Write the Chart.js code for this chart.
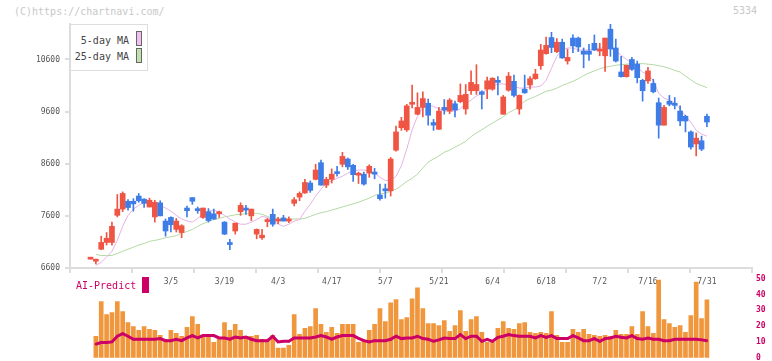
<html>
<head>
<script src="https://cdn.jsdelivr.net/npm/chart.js@4.4.1/dist/chart.umd.min.js"></script>
<style>
    body {
        margin: 0;
        padding: 0;
        background: #fff;
        width: 772px;
        height: 361px;
        overflow: hidden;
        position: relative;
        font-family: 'DejaVu Sans Mono', monospace;
    }
    canvas { position: absolute; left: 0; }
    #priceChart { top: 0; }
    #aiChart { top: 270px; }
    .site { position: absolute; left: 14px; top: 6px; font-size: 10px; line-height: 12px; color: #c8c8c8; }
    .code { position: absolute; right: 15px; top: 5px; font-size: 10px; line-height: 12px; color: #c8c8c8; }
    .legend {
        position: absolute; left: 70px; top: 24px; width: 78px; height: 47px;
        box-sizing: border-box; border: 1px solid #ddd; background: #fff;
    }
    .legend .row { position: absolute; right: 18px; font-size: 10px; line-height: 12px; color: #444; }
    .legend .sw { position: absolute; left: 65px; width: 4px; height: 13px; border: 1px solid #666; }
    .ai { position: absolute; left: 76px; top: 280px; font-size: 10px; line-height: 12px; color: #cc0066; }
    .ai-box { position: absolute; left: 142px; top: 277px; width: 7px; height: 16px; background: #cc0066; }
</style>
</head>
<body>
<div class="site">(C)https://chartnavi.com/</div>
<div class="code">5334</div>

<canvas id="priceChart" width="772" height="290"></canvas>
<canvas id="aiChart" width="772" height="100"></canvas>

<div class="legend">
    <div class="row" style="top:10px">5-day MA</div>
    <div class="sw" style="top:6px; background:#f0c0f0"></div>
    <div class="row" style="top:26px">25-day MA</div>
    <div class="sw" style="top:23px; background:#c0e0b0"></div>
</div>
<div class="ai">AI-Predict</div>
<div class="ai-box"></div>

<script>
// daily candles, oldest first
const opens = [
    6770, 6730, 6960, 7090, 7090, 7610, 7730, 7880, 7880, 7980,
    7920, 7770, 7580, 7850, 7500, 7570, 7340, 7280, 7750, 7950,
    7730, 7570, 7680, 7640, 7640, 7480, 7070, 7310, 7680, 7750,
    7600, 7250, 7180, 7490, 7630, 7500, 7560, 7500, 7840, 7960,
    8040, 8230, 8300, 8620, 8190, 8300, 8440, 8590, 8690, 8570,
    8380, 8400, 8420, 8440, 8000, 8120, 8080, 8860, 9290, 9250,
    9740, 9550, 9680, 9760, 9390, 9260, 9680, 9610, 9750, 9790,
    9650, 10000, 10000, 9980, 10030, 10030, 10200, 9550, 10010, 10180,
    9650, 10030, 10110, 10230, 10480, 10710, 11020, 10750, 10930, 10570,
    11010, 11010, 10760, 10760, 10910, 10760, 10670, 11180, 10820, 10360,
    10270, 10600, 10510, 10200, 10190, 10140, 9770, 9340, 9800, 9760,
    9610, 9510, 9210, 8980, 9040, 9510
];
const highs = [
    6770, 6770, 7210, 7280, 7480, 8010, 8060, 7910, 7930, 8030,
    7930, 7940, 7900, 7890, 7540, 7580, 7550, 7430, 7790, 7950,
    7770, 7750, 7740, 7730, 7690, 7490, 7150, 7460, 7850, 7800,
    7730, 7350, 7340, 7550, 7730, 7570, 7610, 7580, 7950, 8060,
    8300, 8270, 8590, 8670, 8340, 8500, 8550, 8820, 8710, 8590,
    8440, 8440, 8580, 8510, 8210, 8210, 8720, 9320, 9490, 9740,
    10110, 9960, 9980, 9840, 9450, 9680, 9830, 9850, 9800, 10130,
    10120, 10380, 10500, 10000, 10260, 10250, 10270, 9910, 10350, 10300,
    9920, 10300, 10270, 10410, 10890, 11030, 11120, 11000, 10990, 10800,
    11070, 11030, 10820, 10890, 11070, 10910, 11010, 11280, 10990, 10660,
    10490, 10640, 10570, 10220, 10450, 10220, 9860, 9720, 9910, 9870,
    9710, 9530, 9230, 9190, 9130, 9550
];
const lows = [
    6770, 6680, 6950, 7040, 7040, 7580, 7680, 7710, 7690, 7860,
    7760, 7770, 7480, 7600, 7210, 7290, 7290, 7180, 7580, 7820,
    7650, 7550, 7480, 7530, 7570, 7240, 6950, 7250, 7610, 7630,
    7510, 7160, 7150, 7390, 7400, 7450, 7500, 7470, 7790, 7890,
    8030, 8050, 8290, 8190, 8140, 8230, 8360, 8540, 8490, 8260,
    8220, 8190, 8340, 8310, 7900, 7940, 7980, 8840, 9240, 9220,
    9670, 9540, 9500, 9340, 9240, 9260, 9550, 9560, 9500, 9770,
    9550, 9930, 9930, 9650, 9850, 10010, 9920, 9550, 9990, 9880,
    9550, 9950, 10030, 10220, 10410, 10700, 10730, 10730, 10620, 10510,
    10730, 10750, 10440, 10580, 10770, 10670, 10370, 10660, 10550, 10260,
    10260, 10390, 10150, 9800, 10140, 9960, 9090, 9340, 9710, 9650,
    9330, 9210, 8880, 8750, 8850, 9310
];
const closes = [
    6770, 6730, 7090, 7170, 7400, 7730, 8030, 7760, 7830, 7890,
    7840, 7900, 7860, 7600, 7310, 7430, 7500, 7410, 7700, 7880,
    7700, 7750, 7510, 7540, 7650, 7250, 7050, 7460, 7800, 7710,
    7730, 7340, 7230, 7510, 7440, 7520, 7500, 7520, 7910, 8030,
    8240, 8090, 8480, 8190, 8300, 8400, 8410, 8740, 8540, 8390,
    8400, 8210, 8550, 8400, 7930, 8080, 8690, 9210, 9420, 9710,
    9760, 9680, 9850, 9530, 9340, 9610, 9630, 9820, 9630, 9910,
    9930, 10160, 10120, 9930, 10190, 10240, 10160, 9880, 10280, 9910,
    9910, 9960, 10230, 10320, 10780, 10870, 10830, 10930, 10630, 10640,
    10860, 10840, 10700, 10700, 10780, 10780, 11010, 10800, 10570, 10270,
    10490, 10410, 10250, 10000, 10380, 9980, 9340, 9680, 9740, 9720,
    9420, 9420, 8920, 9090, 8880, 9400
];
const ma5 = [
    null, 6650, 6710, 6810, 6920, 7130, 7400, 7610, 7730, 7800,
    7860, 7860, 7840, 7800, 7750, 7690, 7610, 7540, 7500, 7480,
    7550, 7630, 7690, 7710, 7670, 7610, 7540, 7480, 7440, 7440,
    7480, 7530, 7590, 7570, 7520, 7440, 7400, 7440, 7500, 7530,
    7690, 7820, 7980, 8110, 8230, 8270, 8320, 8360, 8420, 8460,
    8480, 8480, 8460, 8420, 8340, 8280, 8280, 8360, 8560, 8880,
    9250, 9510, 9680, 9720, 9700, 9650, 9610, 9610, 9610, 9650,
    9760, 9820, 9900, 9950, 10030, 10090, 10130, 10130, 10110, 10090,
    10050, 10050, 10070, 10070, 10090, 10200, 10430, 10660, 10780, 10820,
    10820, 10780, 10780, 10780, 10800, 10820, 10820, 10820, 10760, 10680,
    10600, 10530, 10450, 10360, 10300, 10200, 9950, 9860, 9820, 9760,
    9650, 9510, 9400, 9240, 9170, 9130
];
const ma25 = [
    null, 6860, 6840, 6840, 6840, 6880, 6920, 6960, 7000, 7040,
    7070, 7110, 7130, 7150, 7180, 7200, 7220, 7270, 7300, 7340,
    7400, 7450, 7490, 7530, 7550, 7580, 7600, 7620, 7630, 7640,
    7650, 7650, 7630, 7590, 7550, 7540, 7540, 7540, 7540, 7540,
    7550, 7590, 7630, 7660, 7680, 7710, 7740, 7770, 7800, 7830,
    7860, 7900, 7940, 7990, 8020, 8040, 8070, 8110, 8180, 8260,
    8320, 8400, 8520, 8630, 8690, 8750, 8820, 8860, 8920, 8970,
    9030, 9120, 9190, 9250, 9320, 9380, 9440, 9500, 9580, 9630,
    9710, 9800, 9850, 9890, 9940, 9990, 10010, 10050, 10100, 10140,
    10180, 10230, 10290, 10340, 10380, 10420, 10450, 10470, 10490, 10500,
    10510, 10520, 10520, 10520, 10510, 10500, 10480, 10460, 10430, 10390,
    10360, 10280, 10210, 10140, 10100, 10060
];
const volume = [
    null, 13.6, 35.6, 27.3, 28.6, 35.6, 29.2, 22.3, 19.8, 17.3,
    19.8, 17.9, 17.3, 14.2, 11.7, 17.3, 15.4, 13.6, 19.2, 26.1,
    21.1, 12.9, 14.8, 9.8, 12.9, 22.3, 17.3, 21.1, 17.3, 13.6,
    13.6, 14.2, 11.7, 11.7, 14.2, 6.1, 6.1, 7.9, 27.3, 14.8,
    18.6, 19.8, 31.1, 21.1, 16.1, 19.2, 15.4, 21.1, 21.1, 21.1,
    9.8, 10.4, 17.3, 21.1, 31.1, 22.9, 34.8, 36.9, 24.2, 25.4,
    37.3, 44.2, 31.1, 21.7, 21.7, 20.4, 23.6, 16.7, 20.4, 29.8,
    16.7, 24.2, 26.1, 16.1, 9.8, 9.8, 18.6, 22.9, 18.6, 17.9,
    21.7, 22.3, 16.1, 15.4, 16.1, 15.4, 29.2, 14.2, 9.8, 9.8,
    17.9, 16.1, 17.9, 14.8, 14.2, 13.6, 14.2, 13.6, 17.3, 14.8,
    14.8, 19.8, 14.8, 29.2, 19.8, 15.4, 49.2, 24.2, 21.7, 19.2,
    20.4, 16.1, 26.7, 47.9, 24.8, 36.7
];
const aiPredict = [
    null, 8.6, 9.6, 9.6, 10.0, 13.6, 15.2, 13.6, 11.7, 11.7,
    11.7, 11.7, 11.7, 12.1, 10.8, 10.8, 11.7, 10.8, 12.5, 14.0,
    12.5, 14.0, 14.0, 14.0, 12.5, 12.5, 11.7, 13.1, 12.5, 13.1,
    11.7, 10.8, 10.8, 10.8, 13.6, 10.0, 10.4, 10.4, 12.5, 12.5,
    12.5, 12.5, 13.1, 14.0, 13.1, 11.7, 13.1, 14.0, 14.0, 14.0,
    12.3, 10.8, 10.0, 10.8, 10.8, 10.8, 11.7, 13.6, 12.1, 12.5,
    12.5, 13.6, 12.1, 11.7, 10.4, 11.3, 12.5, 12.1, 12.1, 14.6,
    12.1, 13.6, 13.6, 10.4, 11.7, 10.4, 12.9, 13.6, 14.6, 14.0,
    13.6, 13.6, 13.6, 12.5, 14.0, 12.9, 14.0, 12.1, 12.1, 12.1,
    14.0, 12.5, 10.8, 10.8, 12.1, 10.4, 12.1, 12.5, 13.6, 12.9,
    12.5, 14.0, 12.1, 11.7, 12.5, 11.7, 11.7, 10.8, 10.8, 11.7,
    11.7, 11.7, 11.7, 11.7, 11.3, 10.8
];
// date labels under the price chart, by candle index
const tickIdx = [15, 25, 35, 45, 55, 65, 75, 85, 95, 104, 115];
const tickText = ['3/5', '3/19', '4/3', '4/17', '5/7', '5/21', '6/4', '6/18', '7/2', '7/16', '7/31'];
const priceTicks = [6600, 7600, 8600, 9600, 10600];

const MONO = "'DejaVu Sans Mono', monospace";
const RED = '#f05442';
const BLUE = '#3e7de8';
const AI = '#cc0066';
const X_MIN = -3.825, X_MAX = 123.41;

const idx = opens.map((o, i) => i);
const candleColor = idx.map(i => closes[i] >= opens[i] ? RED : BLUE);
const pts = arr => arr.map((v, i) => ({x: i, y: v}));

const ctx = document.getElementById('priceChart').getContext('2d');
const ctx2 = document.getElementById('aiChart').getContext('2d');

new Chart(ctx, {
    type: 'bar',
    data: {
        datasets: [
            {
                type: 'line', label: '5-day MA', data: pts(ma5),
                borderColor: '#e6b2e6', borderWidth: 1, pointRadius: 0,
                xAxisID: 'x', yAxisID: 'y', order: 3
            },
            {
                type: 'line', label: '25-day MA', data: pts(ma25),
                borderColor: '#b4d9a4', borderWidth: 1, pointRadius: 0,
                xAxisID: 'x', yAxisID: 'y', order: 4
            },
            {
                label: 'wick', data: idx.map(i => ({x: i, y: [lows[i], highs[i]]})),
                backgroundColor: candleColor, barThickness: 1, grouped: false,
                xAxisID: 'x', yAxisID: 'y', order: 2
            },
            {
                label: 'body', data: idx.map(i => ({x: i, y: [opens[i], closes[i]]})),
                backgroundColor: candleColor, barThickness: 5, minBarLength: 2, grouped: false,
                xAxisID: 'x', yAxisID: 'y', order: 1
            }
        ]
    },
    options: {
        responsive: false,
        animation: false,
        devicePixelRatio: 1,
        layout: { padding: { top: 24, right: 20, left: 0, bottom: 0 } },
        plugins: { legend: { display: false }, tooltip: { enabled: false } },
        scales: {
            x: {
                type: 'linear', position: 'bottom', min: X_MIN, max: X_MAX,
                offset: false, weight: 1,
                grid: { display: false, drawTicks: false, offset: false },
                border: { display: false },
                afterBuildTicks: s => { s.ticks = tickIdx.map(v => ({value: v})); },
                afterFit: s => { s.height = 17; },
                ticks: {
                    autoSkip: false, maxRotation: 0, padding: 4, color: '#555',
                    font: { family: MONO, size: 8 },
                    callback: v => { const j = tickIdx.indexOf(v); return j < 0 ? '' : tickText[j]; }
                }
            },
            xg: {
                type: 'linear', position: 'bottom', min: 0, max: 11,
                offset: false, weight: 0,
                grid: { drawOnChartArea: false, tickLength: 5, color: '#ddd', lineWidth: 2, offset: false },
                border: { color: '#ddd', width: 2 },
                afterBuildTicks: s => { s.ticks = [0,1,2,3,4,5,6,7,8,9,10,11].map(v => ({value: v})); },
                afterFit: s => { s.height = 5; },
                ticks: { display: false }
            },
            y: {
                type: 'linear', position: 'left', min: 6600, max: 11280,
                afterBuildTicks: s => { s.ticks = priceTicks.map(v => ({value: v})); },
                afterFit: s => { s.width = 70; },
                grid: { drawOnChartArea: false, tickLength: 5, color: '#ddd', lineWidth: 2 },
                border: { color: '#ddd', width: 2 },
                ticks: { padding: 5, color: '#555', font: { family: MONO, size: 8 }, callback: v => String(v) }
            }
        }
    }
});

new Chart(ctx2, {
    type: 'bar',
    data: {
        datasets: [
            {
                type: 'line', label: 'AI-Predict', data: pts(aiPredict),
                borderColor: AI, backgroundColor: AI, borderWidth: 3,
                pointStyle: 'rect', pointRadius: 1.5, pointBorderWidth: 0, order: 1
            },
            {
                label: 'volume', data: pts(volume),
                backgroundColor: '#f0963c', barThickness: 4, order: 2
            }
        ]
    },
    options: {
        responsive: false,
        animation: false,
        devicePixelRatio: 1,
        layout: { padding: { left: 70, top: 7.7, bottom: 12.3, right: 0 } },
        plugins: { legend: { display: false }, tooltip: { enabled: false } },
        scales: {
            x: { type: 'linear', display: false, min: X_MIN, max: X_MAX, offset: false, grid: { offset: false } },
            y: {
                type: 'linear', position: 'right', min: 0, max: 50,
                afterFit: s => { s.width = 20; },
                grid: { display: false, drawTicks: false },
                border: { display: false },
                ticks: { stepSize: 10, padding: 4, color: AI, font: { family: MONO, size: 8, weight: 'bold' } }
            }
        }
    }
});
</script>
</body>
</html>
